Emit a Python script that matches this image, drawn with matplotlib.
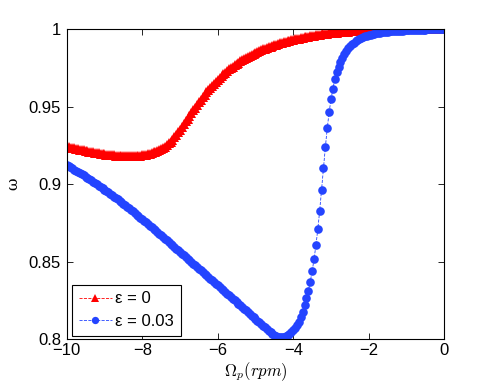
import numpy as np
import matplotlib
matplotlib.use("Agg")
import matplotlib.pyplot as plt

plt.rcParams['font.family'] = ['Liberation Sans', 'DejaVu Sans']
plt.rcParams['mathtext.fontset'] = 'cm'

# x grid: Omega_p from -10 to 0 (rpm), step 0.05
omega_p = np.linspace(-10, 0, 201)

# epsilon = 0 (red triangles)
omega_eps0 = [
    0.9241, 0.9238, 0.9236, 0.9233, 0.9231, 0.9228, 0.9225, 0.9223, 0.9220, 0.9218,
    0.9215, 0.9213, 0.9210, 0.9208, 0.9205, 0.9203, 0.9201, 0.9199, 0.9197, 0.9195,
    0.9193, 0.9191, 0.9190, 0.9188, 0.9187, 0.9185, 0.9184, 0.9183, 0.9182, 0.9181,
    0.9180, 0.9180, 0.9179, 0.9179, 0.9180, 0.9180, 0.9181, 0.9182, 0.9183, 0.9184,
    0.9186, 0.9188, 0.9191, 0.9194, 0.9197, 0.9200, 0.9204, 0.9209, 0.9214, 0.9219,
    0.9225, 0.9233, 0.9242, 0.9252, 0.9263, 0.9274, 0.9287, 0.9301, 0.9316, 0.9333,
    0.9350, 0.9368, 0.9386, 0.9404, 0.9422, 0.9440, 0.9458, 0.9475, 0.9493, 0.9510,
    0.9527, 0.9543, 0.9559, 0.9575, 0.9591, 0.9606, 0.9620, 0.9634, 0.9648, 0.9661,
    0.9674, 0.9686, 0.9697, 0.9708, 0.9719, 0.9730, 0.9740, 0.9749, 0.9758, 0.9767,
    0.9776, 0.9784, 0.9792, 0.9800, 0.9808, 0.9815, 0.9822, 0.9828, 0.9835, 0.9841,
    0.9847, 0.9852, 0.9858, 0.9863, 0.9868, 0.9873, 0.9878, 0.9882, 0.9887, 0.9891,
    0.9895, 0.9899, 0.9903, 0.9907, 0.9910, 0.9914, 0.9917, 0.9920, 0.9924, 0.9927,
    0.9930, 0.9933, 0.9936, 0.9938, 0.9941, 0.9944, 0.9946, 0.9949, 0.9951, 0.9953,
    0.9956, 0.9958, 0.9960, 0.9961, 0.9963, 0.9965, 0.9967, 0.9968, 0.9970, 0.9971,
    0.9973, 0.9974, 0.9975, 0.9977, 0.9978, 0.9979, 0.9980, 0.9981, 0.9982, 0.9983,
    0.9984, 0.9985, 0.9986, 0.9986, 0.9987, 0.9988, 0.9989, 0.9989, 0.9990, 0.9990,
    0.9991, 0.9991, 0.9992, 0.9992, 0.9993, 0.9993, 0.9993, 0.9994, 0.9994, 0.9995,
    0.9995, 0.9995, 0.9996, 0.9996, 0.9996, 0.9997, 0.9997, 0.9997, 0.9997, 0.9998,
    0.9998, 0.9998, 0.9998, 0.9998, 0.9999, 0.9999, 0.9999, 0.9999, 0.9999, 0.9999,
    0.9999, 1.0000, 1.0000, 1.0000, 1.0000, 1.0000, 1.0000, 1.0000, 1.0000, 1.0000,
    1.0000,
]

# epsilon = 0.03 (blue circles)
omega_eps003 = [
    0.9123, 0.9116, 0.9108, 0.9101, 0.9094, 0.9086, 0.9079, 0.9071, 0.9064, 0.9056,
    0.9048, 0.9040, 0.9032, 0.9024, 0.9016, 0.9008, 0.9000, 0.8991, 0.8983, 0.8974,
    0.8965, 0.8956, 0.8947, 0.8938, 0.8929, 0.8920, 0.8911, 0.8902, 0.8892, 0.8883,
    0.8873, 0.8864, 0.8854, 0.8844, 0.8834, 0.8824, 0.8814, 0.8804, 0.8794, 0.8784,
    0.8774, 0.8764, 0.8754, 0.8743, 0.8733, 0.8723, 0.8712, 0.8702, 0.8691, 0.8681,
    0.8670, 0.8660, 0.8649, 0.8638, 0.8628, 0.8617, 0.8606, 0.8596, 0.8585, 0.8574,
    0.8563, 0.8552, 0.8542, 0.8531, 0.8520, 0.8509, 0.8499, 0.8488, 0.8477, 0.8466,
    0.8456, 0.8445, 0.8434, 0.8423, 0.8413, 0.8402, 0.8391, 0.8380, 0.8370, 0.8359,
    0.8348, 0.8337, 0.8326, 0.8316, 0.8305, 0.8294, 0.8283, 0.8272, 0.8262, 0.8251,
    0.8240, 0.8229, 0.8218, 0.8207, 0.8197, 0.8186, 0.8175, 0.8164, 0.8153, 0.8142,
    0.8132, 0.8121, 0.8110, 0.8099, 0.8088, 0.8077, 0.8066, 0.8055, 0.8045, 0.8036,
    0.8028, 0.8021, 0.8017, 0.8015, 0.8015, 0.8017, 0.8021, 0.8028, 0.8036, 0.8046,
    0.8058, 0.8073, 0.8091, 0.8114, 0.8143, 0.8179, 0.8218, 0.8263, 0.8313, 0.8371,
    0.8438, 0.8516, 0.8606, 0.8709, 0.8829, 0.8962, 0.9102, 0.9238, 0.9360, 0.9463,
    0.9547, 0.9615, 0.9676, 0.9721, 0.9757, 0.9789, 0.9816, 0.9839, 0.9858, 0.9875,
    0.9889, 0.9901, 0.9912, 0.9921, 0.9928, 0.9936, 0.9942, 0.9947, 0.9952, 0.9957,
    0.9961, 0.9964, 0.9967, 0.9970, 0.9972, 0.9974, 0.9976, 0.9978, 0.9980, 0.9981,
    0.9983, 0.9984, 0.9985, 0.9986, 0.9987, 0.9988, 0.9989, 0.9990, 0.9990, 0.9991,
    0.9992, 0.9992, 0.9993, 0.9993, 0.9994, 0.9994, 0.9995, 0.9995, 0.9996, 0.9996,
    0.9996, 0.9997, 0.9997, 0.9997, 0.9998, 0.9998, 0.9998, 0.9999, 0.9999, 0.9999,
    1.0000,
]

labels = ['ε = 0', 'ε = 0.03']
x_ticks = [-10, -8, -6, -4, -2, 0]
y_ticks = [0.8, 0.85, 0.9, 0.95, 1.0]
y_ticklabels = ['0.8', '0.85', '0.9', '0.95', '1']

fig = plt.figure(figsize=(4.91, 3.82), dpi=100)
ax = fig.add_axes([0.1358, 0.1118, 0.7691, 0.8123])

red = '#ff0000'
blue = '#2444ff'
ax.plot(omega_p, omega_eps0, linestyle='--', linewidth=0.6, color=red,
        marker='^', markersize=7.2, markeredgewidth=0, label=labels[0])
ax.plot(omega_p, omega_eps003, linestyle='--', linewidth=0.6, color=blue,
        marker='o', markersize=6.2, markeredgewidth=0, label=labels[1])

ax.set_xlim(-10, 0)
ax.set_ylim(0.8, 1.0)
ax.set_xticks(x_ticks)
ax.set_xticklabels(['\u2212' + str(abs(t)) if t < 0 else str(t) for t in x_ticks])
ax.set_yticks(y_ticks)
ax.set_yticklabels(y_ticklabels)
ax.tick_params(direction='in', length=4, width=0.6, top=True, right=True,
               labelsize=12, pad=3)
ax.tick_params(axis='y', pad=4)
for s in ax.spines.values():
    s.set_linewidth(0.8)

ax.set_xlabel(r'$\Omega_p(rpm)$', fontsize=12, labelpad=1)
ax.set_ylabel('ω', fontsize=11, labelpad=6, family=['DejaVu Serif'])

leg = ax.legend(loc='lower left', bbox_to_anchor=(0.014, 0.012), borderaxespad=0,
                fontsize=12, frameon=True, fancybox=False, framealpha=1,
                edgecolor='black', handlelength=2.0, handletextpad=0.2,
                borderpad=0.4, labelspacing=0.45, markerscale=0.85)
leg.get_frame().set_linewidth(0.8)

fig.savefig('out.png', dpi=100)
